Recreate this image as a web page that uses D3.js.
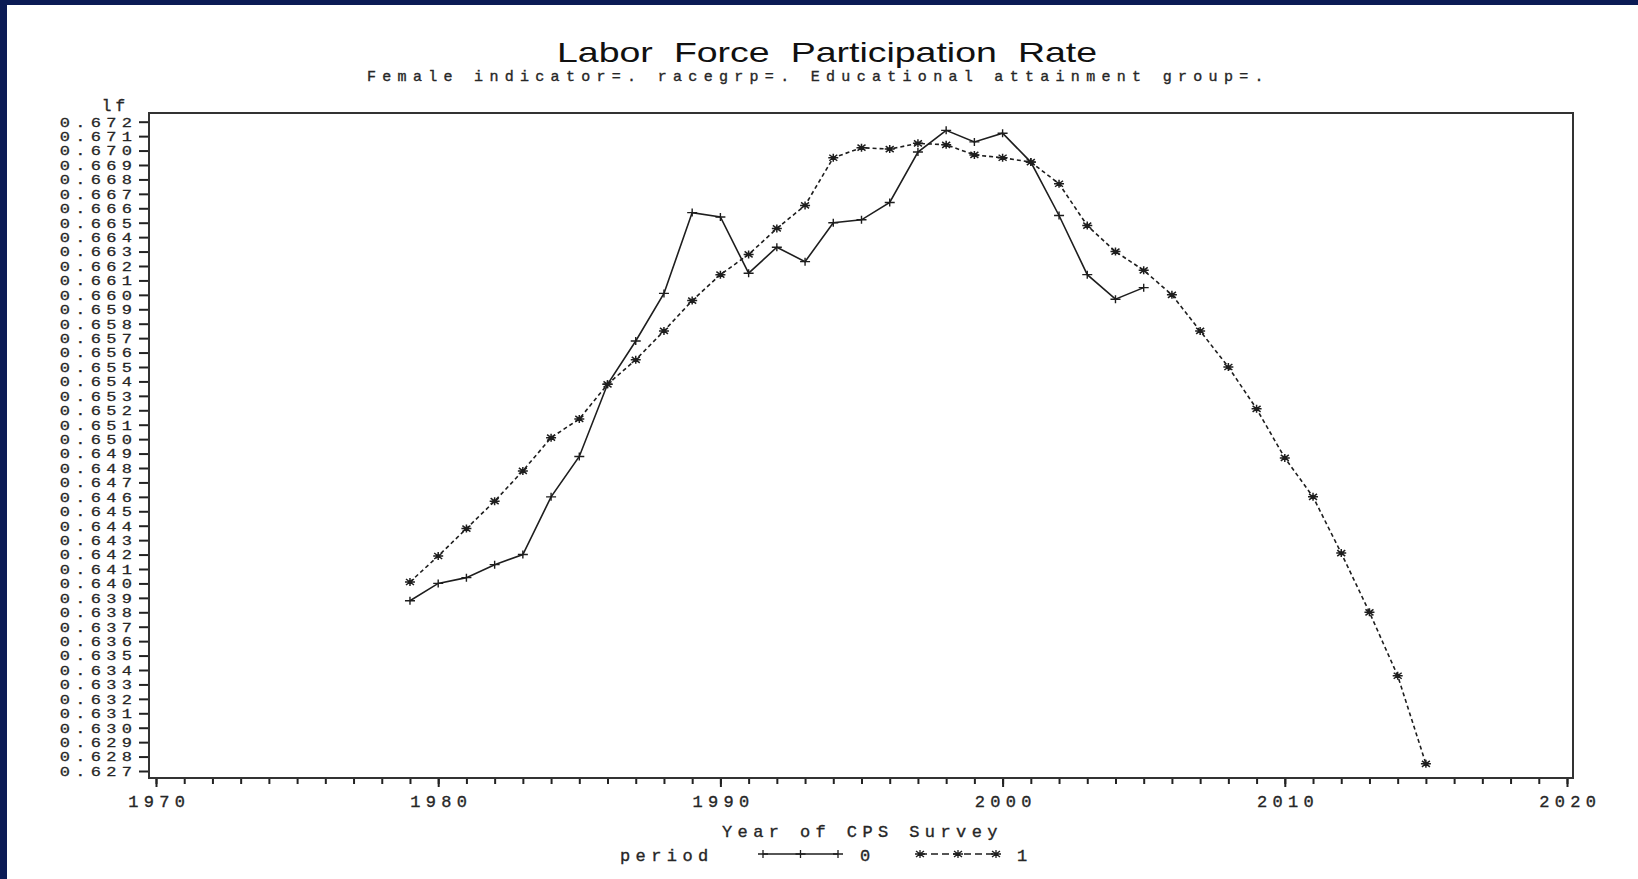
<!DOCTYPE html>
<html>
<head>
<meta charset="utf-8">
<script src="https://cdn.jsdelivr.net/npm/d3@7"></script>
<style>
  html, body { margin: 0; padding: 0; background: #fff; overflow: hidden; }
  svg { display: block; }
  .mono { font-family: "Liberation Mono", "DejaVu Sans Mono", monospace; fill: #262626; stroke: #262626; stroke-width: 0.35px; }
</style>
</head>
<body>
<svg id="chart" width="1638" height="879"></svg>
<script>
// ---- data ----
const years0 = [1979, 1980, 1981, 1982, 1983, 1984, 1985, 1986, 1987, 1988,
                1989, 1990, 1991, 1992, 1993, 1994, 1995, 1996, 1997, 1998,
                1999, 2000, 2001, 2002, 2003, 2004, 2005];
const period0 = [0.6388, 0.6400, 0.6404, 0.6413, 0.6420, 0.6460, 0.6488, 0.6538, 0.6568, 0.6601,
                 0.6657, 0.6654, 0.6615, 0.6633, 0.6623, 0.6650, 0.6652, 0.6664, 0.6699, 0.6714,
                 0.6706, 0.6712, 0.6692, 0.6655, 0.6614, 0.6597, 0.6605];

const years1 = [1979, 1980, 1981, 1982, 1983, 1984, 1985, 1986, 1987, 1988,
                1989, 1990, 1991, 1992, 1993, 1994, 1995, 1996, 1997, 1998,
                1999, 2000, 2001, 2002, 2003, 2004, 2005, 2006, 2007, 2008,
                2009, 2010, 2011, 2012, 2013, 2014, 2015];
const period1 = [0.6401, 0.6419, 0.6438, 0.6457, 0.6478, 0.6501, 0.6514, 0.6538, 0.6555, 0.6575,
                 0.6596, 0.6614, 0.6628, 0.6646, 0.6662, 0.6695, 0.6702, 0.6701, 0.6705, 0.6704,
                 0.6697, 0.6695, 0.6692, 0.6677, 0.6648, 0.6630, 0.6617, 0.6600, 0.6575, 0.6550,
                 0.6521, 0.6487, 0.6460, 0.6421, 0.6380, 0.6336, 0.6275];

const xMajorTicks = [1970, 1980, 1990, 2000, 2010, 2020];
const xMinorTicks = d3.range(1970, 2021);
const yTicks = d3.range(627, 673).map(d => d / 1000);

const titleText = "Labor Force Participation Rate";
const subtitleText = "Female indicator=. racegrp=. Educational attainment group=.";
const yLabelText = "lf";
const xLabelText = "Year of CPS Survey";
const legendTitle = "period";
const legendLabels = ["0", "1"];

// ---- layout ----
const W = 1638, H = 879;
const box = { left: 149, right: 1573, top: 113, bottom: 778 };
const svg = d3.select("#chart");

// page background with dark band on the top and left edges
svg.append("rect").attr("width", W).attr("height", H).attr("fill", "#ffffff");
svg.append("rect").attr("x", 0).attr("y", 0).attr("width", W).attr("height", 5).attr("fill", "#0b1b55");
svg.append("rect").attr("x", 0).attr("y", 0).attr("width", 7).attr("height", H).attr("fill", "#0b1b55");

const x = d3.scaleLinear().domain([1970, 2020]).range([156, 1567]);
const y = d3.scaleLinear().domain([0.627, 0.672]).range([771, 121.7]);

// ---- titles ----
svg.append("text")
  .attr("x", 557).attr("y", 62)
  .attr("textLength", 540).attr("lengthAdjust", "spacingAndGlyphs")
  .style("font-family", "'Liberation Sans', Arial, sans-serif")
  .style("font-size", "28px").style("word-spacing", "8px")
  .attr("fill", "#111")
  .text(titleText);

svg.append("text").attr("class", "mono")
  .attr("x", 367).attr("y", 81)
  .style("font-size", "15px").style("letter-spacing", "6.3px")
  .text(subtitleText);

// ---- axes ----
const yAxis = d3.axisLeft(y).tickValues(yTicks).tickSize(10).tickPadding(2)
  .tickFormat(d3.format(".3f"));
const gy = svg.append("g").attr("transform", `translate(${box.left},0)`).call(yAxis);
gy.select(".domain").remove();
gy.selectAll(".tick line").attr("stroke", "#222").attr("stroke-width", 2);
gy.selectAll(".tick text")
  .attr("class", "mono")
  .attr("x", -17 + 5.3)
  .style("font-size", "17px").style("letter-spacing", "5.3px")
  .attr("transform", "scale(1,0.8)")
  .attr("font-family", null);

svg.append("text").attr("class", "mono")
  .attr("x", 129).attr("y", 111)
  .attr("text-anchor", "end")
  .style("font-size", "16px").style("letter-spacing", "4px")
  .text(yLabelText);

const gxMinor = svg.append("g").attr("transform", `translate(0,${box.bottom})`)
  .call(d3.axisBottom(x).tickValues(xMinorTicks).tickSize(6).tickFormat(""));
gxMinor.select(".domain").remove();
gxMinor.selectAll(".tick line").attr("stroke", "#222").attr("stroke-width", 2);

const gx = svg.append("g").attr("transform", `translate(0,${box.bottom})`)
  .call(d3.axisBottom(x).tickValues(xMajorTicks).tickSize(9).tickPadding(8).tickFormat(d3.format("d")));
gx.select(".domain").remove();
gx.selectAll(".tick line").attr("stroke", "#222").attr("stroke-width", 2);
gx.selectAll(".tick text")
  .attr("class", "mono")
  .attr("dx", 5.3 / 2)
  .style("font-size", "17px").style("letter-spacing", "5.3px")
  .attr("font-family", null);

// plot frame
svg.append("rect")
  .attr("x", box.left).attr("y", box.top)
  .attr("width", box.right - box.left).attr("height", box.bottom - box.top)
  .attr("fill", "none").attr("stroke", "#333").attr("stroke-width", 2);

// ---- series ----
const s0 = years0.map((yr, i) => ({ year: yr, value: period0[i] }));
const s1 = years1.map((yr, i) => ({ year: yr, value: period1[i] }));

const line = d3.line().x(d => x(d.year)).y(d => y(d.value));
const plusPath = "M-5,0H5M0,-4V4";
const starPath = "M-5,0H5M0,-4V4M-4,-3L4,3M-4,3L4,-3";

svg.append("path").datum(s0)
  .attr("d", line).attr("fill", "none")
  .attr("stroke", "#1e1e1e").attr("stroke-width", 1.6);
svg.append("path").datum(s1)
  .attr("d", line).attr("fill", "none")
  .attr("stroke", "#1e1e1e").attr("stroke-width", 1.6)
  .attr("stroke-dasharray", "4,3");

svg.append("g").selectAll("path").data(s0).join("path")
  .attr("transform", d => `translate(${x(d.year)},${y(d.value)})`)
  .attr("d", plusPath).attr("fill", "none")
  .attr("stroke", "#1e1e1e").attr("stroke-width", 1.4);
svg.append("g").selectAll("path").data(s1).join("path")
  .attr("transform", d => `translate(${x(d.year)},${y(d.value)})`)
  .attr("d", starPath).attr("fill", "none")
  .attr("stroke", "#1e1e1e").attr("stroke-width", 1.5);

// ---- axis label and legend ----
svg.append("text").attr("class", "mono")
  .attr("x", 722).attr("y", 837)
  .style("font-size", "17px").style("letter-spacing", "5.4px")
  .text(xLabelText);

svg.append("text").attr("class", "mono")
  .attr("x", 620).attr("y", 861)
  .style("font-size", "17px").style("letter-spacing", "5.4px")
  .text(legendTitle);

const legendY = 854;
const legendItems = [
  { x0: 763, x1: 838, tx: 865, dash: null, marker: plusPath, label: legendLabels[0] },
  { x0: 920, x1: 996, tx: 1022, dash: "7,4", marker: starPath, label: legendLabels[1] }
];
const lg = svg.append("g");
legendItems.forEach(it => {
  lg.append("line")
    .attr("x1", it.x0).attr("x2", it.x1).attr("y1", legendY).attr("y2", legendY)
    .attr("stroke", "#1e1e1e").attr("stroke-width", 1.4)
    .attr("stroke-dasharray", it.dash);
  [it.x0, (it.x0 + it.x1) / 2, it.x1].forEach(mx => {
    lg.append("path")
      .attr("transform", `translate(${mx},${legendY})`)
      .attr("d", it.marker).attr("fill", "none")
      .attr("stroke", "#1e1e1e").attr("stroke-width", 1.3);
  });
  lg.append("text").attr("class", "mono")
    .attr("x", it.tx).attr("y", 861)
    .attr("text-anchor", "middle")
    .style("font-size", "17px")
    .text(it.label);
});
</script>
</body>
</html>
